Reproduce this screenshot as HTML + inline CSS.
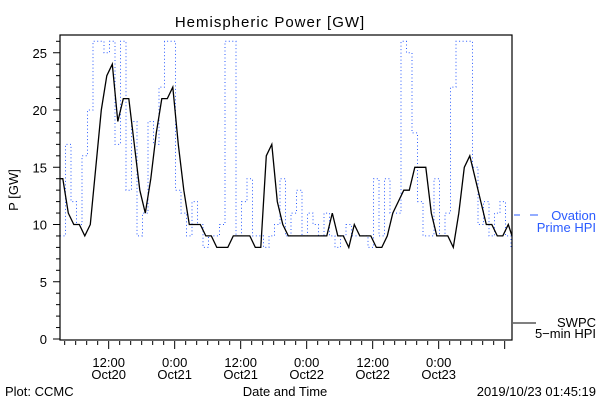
<!DOCTYPE html>
<html><head><meta charset="utf-8"><style>
body{margin:0;background:#fff}
svg text{font-family:"Liberation Sans","DejaVu Sans",sans-serif;font-size:13px}
</style></head><body>
<svg width="600" height="400" viewBox="0 0 600 400">
<rect width="600" height="400" fill="#fff"/>
<text x="270" y="27" text-anchor="middle" style="font-size:15px;letter-spacing:1px">Hemispheric Power [GW]</text>
<g id="series"></g>
<rect x="60" y="35" width="452" height="305" fill="none" stroke="#000" stroke-width="1.2"/>
<g id="axes"></g>
<text transform="translate(18,190) rotate(-90)" text-anchor="middle">P [GW]</text>
<text x="285" y="396" text-anchor="middle">Date and Time</text>
<text x="5" y="396">Plot: CCMC</text>
<text x="596" y="396" text-anchor="end">2019/10/23 01:45:19</text>
<g>
<line x1="514" y1="215" x2="520" y2="215" stroke="#2a5bff"/>
<line x1="530" y1="215" x2="538" y2="215" stroke="#2a5bff"/>
<text x="596" y="220" text-anchor="end" fill="#2a5bff">Ovation</text>
<text x="596" y="232" text-anchor="end" fill="#2a5bff">Prime HPI</text>
</g>
<g>
<line x1="513" y1="323" x2="536" y2="323" stroke="#000"/>
<text x="596" y="327" text-anchor="end">SWPC</text>
<text x="596" y="338" text-anchor="end">5−min HPI</text>
</g>
</svg>
<script>
const startHour = 3.15;
const stepHours = 1;
const swpcValues = [14,11,10,10,9,10,15,20,23,24,19,21,21,17,13,11,14,18,21,21,22,17,13,10,10,10,9,9,8,8,8,9,9,9,9,8,8,16,17,12,10,9,9,9,9,9,9,9,9,11,9,9,8,10,9,9,9,8,8,9,11,12,13,13,15,15,15,11,9,9,9,8,11,15,16,14,12,10,10,9,9,10,9];
const ovationValues = [9,17,12,10,16,20,26,26,25,26,17,26,13,19,9,11,19,17,22,26,26,13,11,9,12,10,8,9,9,10,26,26,9,12,14,9,9,8,9,10,14,9,11,13,9,11,10,9,11,9,8,9,10,9,9,9,8,14,9,14,11,11,26,25,18,12,9,9,14,9,11,22,26,26,26,15,10,12,9,11,12,9,8];
const yTicks = [0,5,10,15,20,25];
const xTickHours = [12,24,36,48,60,72];
const xTickLabels = [["12:00","Oct20"],["0:00","Oct21"],["12:00","Oct21"],["0:00","Oct22"],["12:00","Oct22"],["0:00","Oct23"]];

const NS="http://www.w3.org/2000/svg";
const X0=60,X1=512,Y0=339,YTOP=35,PXH=5.5,PXV=11.45;
const tEnd=startHour+(X1-X0)/PXH;
const xs=t=>X0+(t-startHour)*PXH;
const ys=v=>Y0-v*PXV;
const yClip=v=>Math.max(YTOP+1,ys(v));
function stepPath(vals){
  let d="";
  vals.forEach((v,i)=>{
    const x=xs(startHour+i*stepHours), y=yClip(v);
    const xn=Math.min(X1,xs(startHour+(i+1)*stepHours));
    d+=(i===0?"M":"L")+x.toFixed(1)+","+y.toFixed(1)+"L"+xn.toFixed(1)+","+y.toFixed(1);
  });
  return d;
}
function rampPath(vals){
  let d="";
  vals.forEach((v,i)=>{
    const x=xs(startHour+i*stepHours+0.5), y=yClip(v);
    d+=(i===0?"M"+X0+","+y.toFixed(1)+"L":"L")+Math.min(X1,x).toFixed(1)+","+y.toFixed(1);
  });
  return d;
}
const ser=document.getElementById("series");
const pb=document.createElementNS(NS,"path");
pb.setAttribute("d",stepPath(ovationValues));
pb.setAttribute("fill","none");pb.setAttribute("stroke","#2a5bff");
pb.setAttribute("stroke-width","1");pb.setAttribute("stroke-dasharray","1 2.5");


ser.appendChild(pb);
const pk=document.createElementNS(NS,"path");
pk.setAttribute("d",rampPath(swpcValues));
pk.setAttribute("fill","none");pk.setAttribute("stroke","#000");pk.setAttribute("stroke-width","1.3");


ser.appendChild(pk);

const ax=document.getElementById("axes");
function line(x1,y1,x2,y2){const l=document.createElementNS(NS,"line");
 l.setAttribute("x1",x1);l.setAttribute("y1",y1);l.setAttribute("x2",x2);l.setAttribute("y2",y2);
 l.setAttribute("stroke","#000");ax.appendChild(l);return l;}
for(let v=0;v<=26;v++){
 const l=line(X0,ys(v),X0-(v%5===0?7:4),ys(v));
 
 
}
yTicks.forEach(v=>{
 const t=document.createElementNS(NS,"text");
 t.setAttribute("x",47);t.setAttribute("y",ys(v)+5);t.setAttribute("text-anchor","end");
 t.textContent=v;
 
 
 ax.appendChild(t);
});
for(let h=4;h<=tEnd;h+=2){
 const l=line(xs(h),341,xs(h),h%12===0?349:345);
 
 
}
xTickHours.forEach((h,i)=>{
 xTickLabels[i].forEach((s,j)=>{
  const t=document.createElementNS(NS,"text");
  t.setAttribute("x",xs(h));t.setAttribute("y",367+j*12);t.setAttribute("text-anchor","middle");
  t.textContent=s;
  
  
  ax.appendChild(t);
 });
});
</script>
</body></html>
